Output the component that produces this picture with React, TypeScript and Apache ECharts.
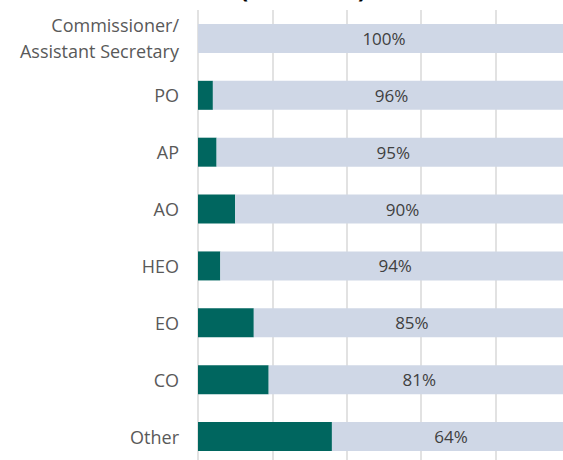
import React, { useEffect, useRef } from "react";
import * as echarts from "echarts";

const categories = [
  "Commissioner/\nAssistant Secretary",
  "PO",
  "AP",
  "AO",
  "HEO",
  "EO",
  "CO",
  "Other",
];
const otherShare = [0, 4, 5, 10, 6, 15, 19, 36];
const mainShare = [100, 96, 95, 90, 94, 85, 81, 64];
const xTicks = [0, 20, 40, 60, 80, 100];

export default function App() {
  const ref = useRef<HTMLDivElement>(null);
  useEffect(() => {
    if (!ref.current) return;
    const chart = echarts.init(ref.current, null, { renderer: "svg" });
    chart.setOption({
      animation: false,
      backgroundColor: "#ffffff",
      graphic: [
        {
          type: "text",
          left: 240,
          top: -23.5,
          style: { text: "(", font: "bold 24px 'Open Sans'", fill: "#000000" },
        },
        {
          type: "text",
          left: 358,
          top: -23.5,
          style: { text: ")", font: "bold 24px 'Open Sans'", fill: "#000000" },
        },
      ],
      grid: { left: 198, top: 10, width: 372, height: 455, containLabel: false },
      xAxis: {
        type: "value",
        min: xTicks[0],
        max: xTicks[xTicks.length - 1],
        interval: 20,
        axisLabel: { show: false },
        axisLine: { show: false },
        axisTick: { show: false },
        splitLine: { show: true, lineStyle: { color: "#D9D9D9", width: 1.5 } },
      },
      yAxis: {
        type: "category",
        data: categories,
        inverse: true,
        axisLine: { show: false },
        axisTick: { show: false },
        axisLabel: {
          margin: 19,
          color: "#595959",
          fontFamily: "'Open Sans'",
          fontSize: 18,
          lineHeight: 26,
          align: "right",
        },
      },
      series: [
        {
          name: "Other",
          type: "bar",
          stack: "s",
          data: otherShare,
          barWidth: 29,
          itemStyle: { color: "#00665F" },
        },
        {
          name: "Main",
          type: "bar",
          stack: "s",
          data: mainShare,
          barWidth: 29,
          itemStyle: { color: "#CFD7E6" },
          label: {
            show: true,
            position: "inside",
            formatter: "{c}%",
            color: "#404040",
            fontFamily: "'Open Sans'",
            fontSize: 17,
          },
        },
      ],
    });
    return () => chart.dispose();
  }, []);
  return (
    <div
      ref={ref}
      style={{ position: "fixed", left: 0, top: 0, width: 580, height: 480 }}
    />
  );
}
